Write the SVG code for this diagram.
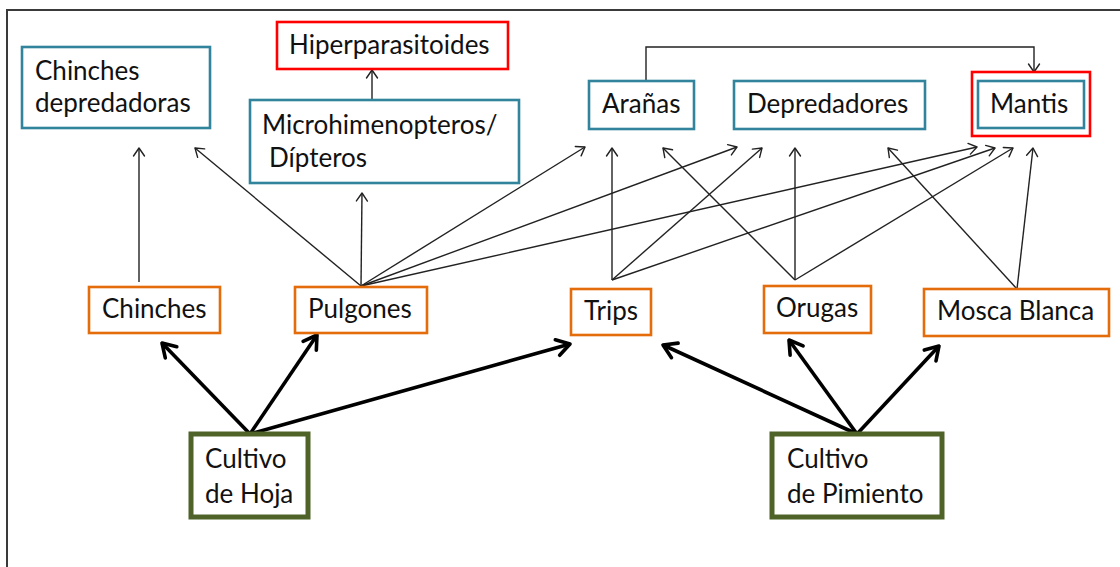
<svg xmlns="http://www.w3.org/2000/svg" width="1120" height="567" viewBox="0 0 1120 567">
  <style>
    .box { fill: #ffffff; stroke-width: 2.6; }
    .pred { stroke: #31849B; }
    .hyper { stroke: #FF0000; }
    .prey { stroke: #E46C0A; }
    .crop { stroke: #4F6228; stroke-width: 5; }
    .lbl { font-family: Lato, "Open Sans", sans-serif; font-size: 26px; fill: #111111; }
    .thin { fill: none; stroke: #222222; stroke-width: 1.4; marker-end: url(#openHead); }
    .thick { fill: none; stroke: #000000; stroke-width: 3.6; marker-end: url(#boldHead); }
    .frame { fill: none; stroke: #3a3a3a; stroke-width: 2; }
  </style>
  <defs>
    <marker id="openHead" markerUnits="userSpaceOnUse" viewBox="-12 -10 14 20" markerWidth="14" markerHeight="20" refX="0" refY="0" orient="auto">
      <path d="M-8,-5.5 L0,0 L-8,5.5" fill="none" stroke="#222222" stroke-width="1.4" stroke-linejoin="round" stroke-linecap="round"/>
    </marker>
    <marker id="boldHead" markerUnits="userSpaceOnUse" viewBox="-18 -12 20 24" markerWidth="20" markerHeight="24" refX="0" refY="0" orient="auto">
      <path d="M-13,-8 L0,0 L-13,8" fill="none" stroke="#000000" stroke-width="3.6" stroke-linejoin="round" stroke-linecap="round"/>
    </marker>
  </defs>

  <rect width="1120" height="567" fill="#ffffff"/>
  <!-- outer frame (top and left edges) -->
  <path class="frame" d="M7,567 L7,10 L1120,10"/>

  <!-- connectors -->
  <g id="connectors">
    <!-- crops to pests -->
    <line class="thick" x1="250" y1="434" x2="162" y2="343"/>
    <line class="thick" x1="250" y1="434" x2="317" y2="335"/>
    <line class="thick" x1="250" y1="434" x2="570" y2="344"/>
    <line class="thick" x1="857" y1="434" x2="663" y2="345"/>
    <line class="thick" x1="857" y1="434" x2="789" y2="340"/>
    <line class="thick" x1="857" y1="434" x2="939" y2="346"/>
    <!-- pests to natural enemies -->
    <line class="thin" x1="139" y1="282" x2="139" y2="148"/>
    <line class="thin" x1="361" y1="286" x2="195" y2="148"/>
    <line class="thin" x1="361" y1="286" x2="362" y2="193"/>
    <line class="thin" x1="361" y1="286" x2="585" y2="147"/>
    <line class="thin" x1="361" y1="286" x2="737" y2="147"/>
    <line class="thin" x1="361" y1="286" x2="977" y2="147"/>
    <line class="thin" x1="612" y1="280" x2="612" y2="148"/>
    <line class="thin" x1="612" y1="280" x2="762" y2="148"/>
    <line class="thin" x1="612" y1="280" x2="995" y2="148"/>
    <line class="thin" x1="795" y1="280" x2="663" y2="148"/>
    <line class="thin" x1="795" y1="280" x2="795" y2="148"/>
    <line class="thin" x1="795" y1="280" x2="1013" y2="148"/>
    <line class="thin" x1="1017" y1="289" x2="888" y2="148"/>
    <line class="thin" x1="1017" y1="289" x2="1033" y2="148"/>
    <!-- upper level links -->
    <line class="thin" x1="372" y1="99" x2="372" y2="70"/>
    <path class="thin" d="M646,81 L646,47 L1034,47 L1034,72"/>
  </g>

  <!-- natural enemies -->
  <g id="chinches-depredadoras">
    <rect class="box pred" x="22" y="47" width="188" height="81"/>
    <text class="lbl" x="35" y="80">Chinches</text>
    <text class="lbl" x="35" y="112">depredadoras</text>
  </g>
  <g id="hiperparasitoides">
    <rect class="box hyper" x="277" y="22" width="231" height="47"/>
    <text class="lbl" x="289" y="54">Hiperparasitoides</text>
  </g>
  <g id="microhimenopteros">
    <rect class="box pred" x="250" y="100" width="269" height="83"/>
    <text class="lbl" x="262" y="134">Microhimenopteros/</text>
    <text class="lbl" x="262" y="167"> <tspan x="269">Dípteros</tspan></text>
  </g>
  <g id="aranas">
    <rect class="box pred" x="589" y="81" width="105" height="48"/>
    <text class="lbl" x="602" y="113">Arañas</text>
  </g>
  <g id="depredadores">
    <rect class="box pred" x="734" y="81" width="191" height="48"/>
    <text class="lbl" x="747" y="113">Depredadores</text>
  </g>
  <g id="mantis">
    <rect class="box hyper" x="972" y="72" width="118" height="64"/>
    <rect class="box pred" x="978" y="81" width="106" height="47"/>
    <text class="lbl" x="990" y="113">Mantis</text>
  </g>

  <!-- pests -->
  <g id="chinches">
    <rect class="box prey" x="89" y="287" width="131" height="46"/>
    <text class="lbl" x="102" y="318">Chinches</text>
  </g>
  <g id="pulgones">
    <rect class="box prey" x="295" y="287" width="132" height="46"/>
    <text class="lbl" x="308" y="318">Pulgones</text>
  </g>
  <g id="trips">
    <rect class="box prey" x="571" y="289" width="80" height="46"/>
    <text class="lbl" x="584" y="320">Trips</text>
  </g>
  <g id="orugas">
    <rect class="box prey" x="764" y="286" width="107" height="47"/>
    <text class="lbl" x="776" y="317">Orugas</text>
  </g>
  <g id="mosca-blanca">
    <rect class="box prey" x="924" y="289" width="185" height="47"/>
    <text class="lbl" x="937" y="320">Mosca Blanca</text>
  </g>

  <!-- crops -->
  <g id="cultivo-hoja">
    <rect class="box crop" x="191" y="434" width="117" height="83"/>
    <text class="lbl" x="205" y="468">Cultivo</text>
    <text class="lbl" x="205" y="503">de Hoja</text>
  </g>
  <g id="cultivo-pimiento">
    <rect class="box crop" x="772" y="434" width="170" height="83"/>
    <text class="lbl" x="787" y="468">Cultivo</text>
    <text class="lbl" x="787" y="503">de Pimiento</text>
  </g>
</svg>
